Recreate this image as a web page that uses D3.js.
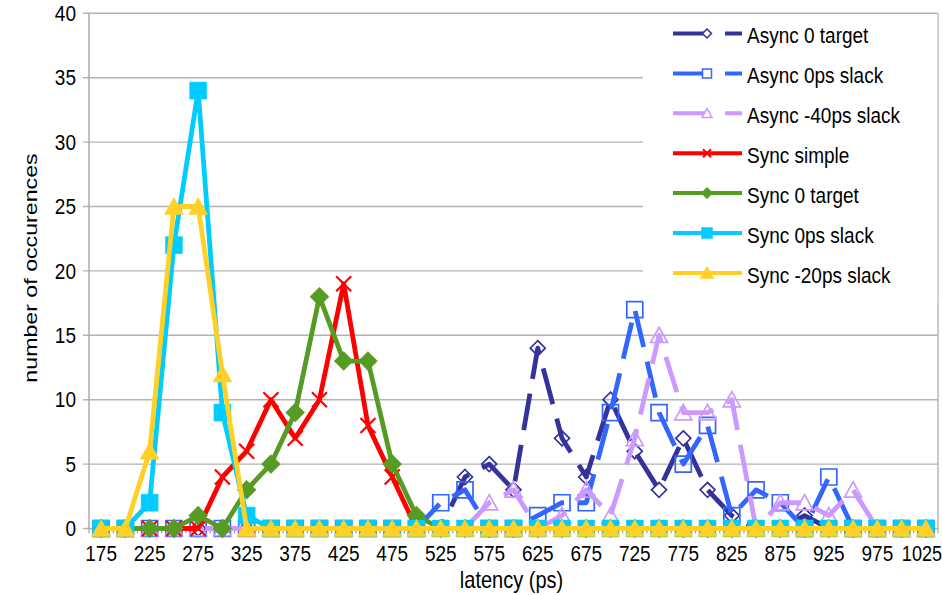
<!DOCTYPE html>
<html><head><meta charset="utf-8">
<script src="https://cdn.jsdelivr.net/npm/d3@7"></script>
<style>
body{margin:0;background:#fff}
svg{display:block}
text{font-family:"Liberation Sans",Arial,sans-serif;fill:#000}
</style>
</head><body>
<svg id="chart" width="943" height="595"></svg>
<script>
// ---------- data ----------
const categories = [175,200,225,250,275,300,325,350,375,400,425,450,475,500,525,550,575,600,625,650,675,700,725,750,775,800,825,850,875,900,925,950,975,1000,1025];
const xTickLabels = [175,225,275,325,375,425,475,525,575,625,675,725,775,825,875,925,975,1025];
const yTickLabels = [0,5,10,15,20,25,30,35,40];
const seriesNames = ["Async 0 target","Async 0ps slack","Async -40ps slack","Sync simple","Sync 0 target","Sync 0ps slack","Sync -20ps slack"];
const asyncTarget = [0,0,0,0,0,0,0,0,0,0,0,0,0,0,0,4,5,3,14,7,4,10,6,3,7,3,1,0,0,1,0,0,0,0,0];
const asyncSlack  = [0,0,0,0,0,0,0,0,0,0,0,0,0,0,2,3,0,0,1,2,2,9,17,9,5,8,1,3,2,0,4,0,0,0,0];
const asyncNeg40  = [0,0,0,0,0,0,0,0,0,0,0,0,0,0,0,0,2,3,0,1,3,1,7,15,9,9,10,0,2,2,1,3,0,0,0];
const syncSimple  = [0,0,0,0,0,4,6,10,7,10,19,8,4,0,0,0,0,0,0,0,0,0,0,0,0,0,0,0,0,0,0,0,0,0,0];
const syncTarget  = [0,0,0,0,1,0,3,5,9,18,13,13,5,1,0,0,0,0,0,0,0,0,0,0,0,0,0,0,0,0,0,0,0,0,0];
const syncSlack   = [0,0,2,22,34,9,1,0,0,0,0,0,0,0,0,0,0,0,0,0,0,0,0,0,0,0,0,0,0,0,0,0,0,0,0];
const syncNeg20   = [0,0,6,25,25,12,0,0,0,0,0,0,0,0,0,0,0,0,0,0,0,0,0,0,0,0,0,0,0,0,0,0,0,0,0];

// ---------- styles ----------
const styles = [
  {color:"#333399", dash:"37,15", marker:"diamond", fill:false, size:15, lsize:9},
  {color:"#3366ff", dash:"37,15", marker:"square",  fill:false, size:16, lsize:9},
  {color:"#cc99ff", dash:"37,15", marker:"triangle",fill:false, size:17, lsize:10},
  {color:"#ff0000", dash:null,    marker:"x",       fill:false, size:15, lsize:8},
  {color:"#569b24", dash:null,    marker:"diamond", fill:true,  size:19, lsize:10},
  {color:"#00ccff", dash:null,    marker:"square",  fill:true,  size:17, lsize:10},
  {color:"#ffd026", dash:null,    marker:"triangle",fill:true,  size:19, lsize:12}
];
const seriesValues = [asyncTarget, asyncSlack, asyncNeg40, syncSimple, syncTarget, syncSlack, syncNeg20];
const series = seriesNames.map((n,i)=>({name:n, values:seriesValues[i], style:styles[i]}));

// ---------- layout ----------
const plotL = 89, plotR = 938, plotT = 13.3, plotB = 528.5;
const svg = d3.select("#chart");
const x = d3.scalePoint().domain(categories).range([plotL, plotR]).padding(0.5);
const y = d3.scaleLinear().domain([0,40]).range([plotB, plotT]);
const SY = 1.18; // vertical stretch of text
const FS = 19;

function markerPath(type, s){
  const h = s/2;
  if(type==="square") return `M${-h},${-h}h${s}v${s}h${-s}Z`;
  if(type==="diamond") return `M0,${-h}L${h},0L0,${h}L${-h},0Z`;
  if(type==="triangle") return `M0,${-h*0.95}L${h},${h*0.85}L${-h},${h*0.85}Z`;
  if(type==="x") return `M${-h},${-h}L${h},${h}M${h},${-h}L${-h},${h}`;
}

// gridlines & axes
const grid = svg.append("g");
grid.selectAll("line.g").data(yTickLabels).join("line")
  .attr("x1", plotL-6).attr("x2", plotR)
  .attr("y1", d=>y(d)).attr("y2", d=>y(d))
  .attr("stroke", "#b3b3b3").attr("stroke-width", 1.4);
grid.append("line").attr("x1", plotL).attr("x2", plotL).attr("y1", plotT).attr("y2", plotB+1)
  .attr("stroke", "#a6a6a6").attr("stroke-width", 1.4);
grid.append("line").attr("x1", plotR).attr("x2", plotR).attr("y1", plotT).attr("y2", plotB)
  .attr("stroke", "#b3b3b3").attr("stroke-width", 1.4);
// x tick marks at category boundaries
const step = x.step();
grid.selectAll("line.xt").data(categories.concat([null])).join("line")
  .attr("x1", (d,i)=>plotL + i*step).attr("x2", (d,i)=>plotL + i*step)
  .attr("y1", plotB).attr("y2", plotB+5)
  .attr("stroke", "#a6a6a6").attr("stroke-width", 1.2);

// y tick labels
svg.append("g").selectAll("text").data(yTickLabels).join("text")
  .attr("text-anchor","end").attr("font-size", FS)
  .attr("transform", d=>`translate(76,${y(d)+6.5*SY}) scale(1,${SY})`)
  .text(d=>d);
// x tick labels
svg.append("g").selectAll("text").data(xTickLabels).join("text")
  .attr("text-anchor","middle").attr("font-size", FS)
  .attr("transform", (d,i)=> i===xTickLabels.length-1
      ? `translate(942,561) scale(0.95,${SY})`
      : `translate(${x(d)},561) scale(1,${SY})`)
  .attr("text-anchor", (d,i)=> i===xTickLabels.length-1 ? "end" : "middle")
  .text(d=>d);
// axis titles
svg.append("text").attr("text-anchor","middle").attr("font-size", 20)
  .attr("transform", `translate(${(plotL+plotR)/2-2},588) scale(1,${SY})`)
  .text("latency (ps)");
svg.append("text").attr("text-anchor","middle").attr("font-size", FS)
  .attr("dominant-baseline","central")
  .attr("transform", `translate(30,268) rotate(-90) scale(1.22,1)`)
  .text("number of occurences");

// series
const line = d3.line().x((d,i)=>x(categories[i])).y(d=>y(d));
series.forEach(s=>{
  const g = svg.append("g");
  g.append("path").attr("d", line(s.values))
    .attr("fill","none").attr("stroke", s.style.color).attr("stroke-width", 4.8)
    .attr("stroke-linejoin","round")
    .attr("stroke-dasharray", s.style.dash);
  g.selectAll("path.m").data(s.values).join("path")
    .attr("transform", (d,i)=>`translate(${x(categories[i])},${y(d)})`)
    .attr("d", markerPath(s.style.marker, s.style.size))
    .attr("fill", s.style.fill ? s.style.color : "none")
    .attr("stroke", s.style.color)
    .attr("stroke-width", s.style.fill ? 0.5 : (s.style.marker==="x" ? 2.2 : 1.7));
});

// legend
const lg = svg.append("g");
lg.append("rect").attr("x", 643).attr("y", plotT+0.7).attr("width", plotR-643-0.7).attr("height", 288).attr("fill","#fff");
series.forEach((s,i)=>{
  const ly = 33.5 + i*39.9;
  lg.append("line").attr("x1",673).attr("x2",742).attr("y1",ly).attr("y2",ly)
    .attr("stroke", s.style.color).attr("stroke-width", 4)
    .attr("stroke-dasharray", s.style.dash);
  lg.append("path").attr("transform", `translate(707,${ly})`)
    .attr("d", markerPath(s.style.marker, s.style.lsize))
    .attr("fill", s.style.fill ? s.style.color : "#fff")
    .attr("stroke", s.style.color).attr("stroke-width", s.style.marker==="x"?2:1.5);
  lg.append("text").attr("font-size", FS)
    .attr("transform", `translate(747,${ly+2+6.5*SY}) scale(1,${SY})`)
    .text(s.name);
});
</script>
</body></html>
